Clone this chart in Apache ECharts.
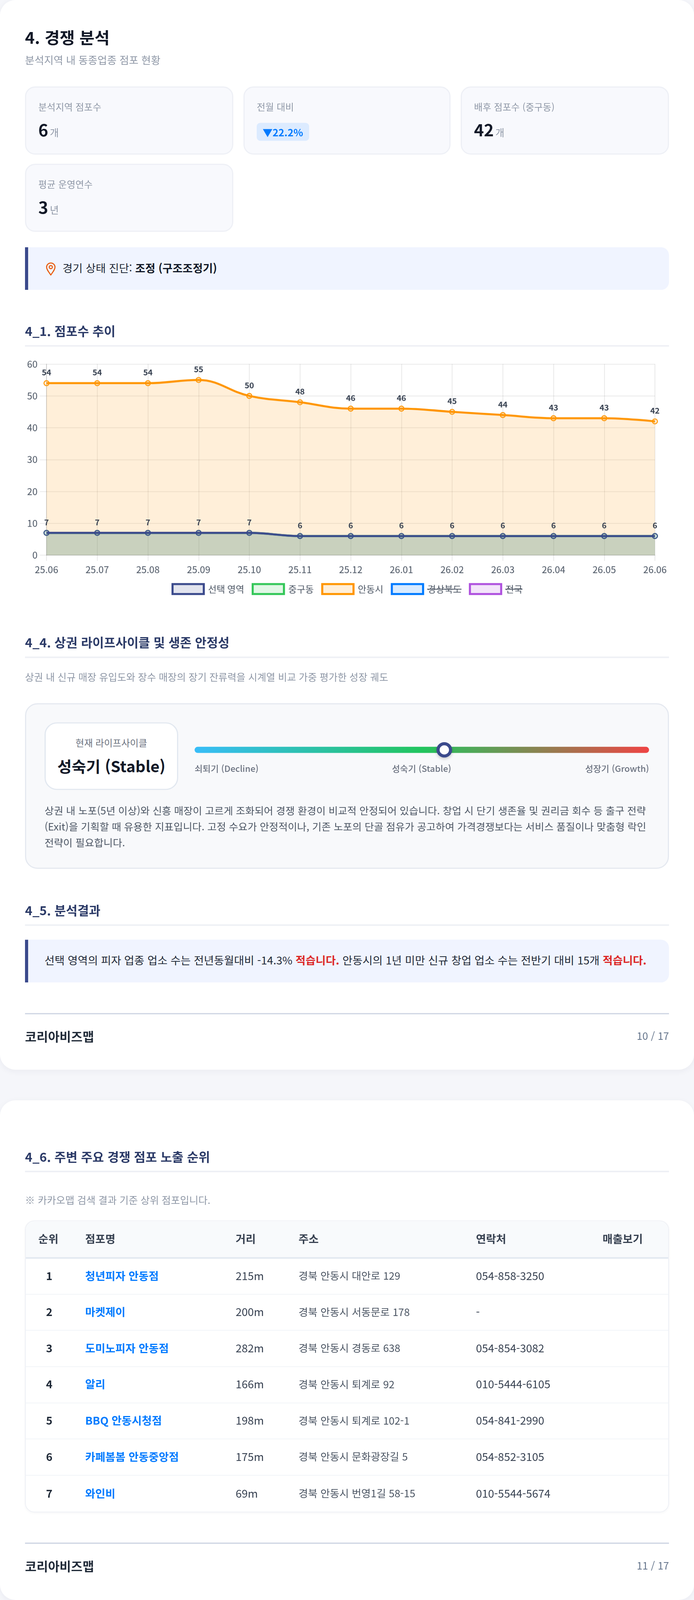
<!DOCTYPE html>
<html lang="ko">
<head>
<meta charset="utf-8">
<title>4. 경쟁 분석</title>
<script src="https://cdn.jsdelivr.net/npm/echarts@6/dist/echarts.min.js"></script>
<style>
  * { box-sizing: border-box; margin: 0; padding: 0; }
  html, body { width: 1776px; height: 100%; overflow: hidden; background: #f5f6fa; }
  body { color: #1f2937; font-family: "Noto Sans CJK KR", "Noto Sans", sans-serif; }
  #sheet { position: absolute; left: 0; top: 0; width: 1776px; height: 4182px; transform-origin: 0 0; }
  .page { position: absolute; left: 0; width: 1776px; background: #fff; border-radius: 40px; box-shadow: 0 4px 16px rgba(30, 40, 80, .05); }
  .abs { position: absolute; left: 64px; width: 1648px; }
  .title { font-size: 42px; font-weight: 700; line-height: 58px; color: #111827; }
  .sub { font-size: 26.5px; line-height: 40px; color: #8e97a6; }
  .kpi { position: absolute; width: 533px; height: 178px; background: #f8f9fd; border: 3px solid #eef0f6; border-radius: 26px; padding-left: 31px; }
  .kpi .lbl { position: absolute; top: 32px; font-size: 24px; line-height: 36px; color: #8e97a6; }
  .kpi .val { position: absolute; top: 76px; font-size: 43px; font-weight: 700; line-height: 64px; color: #111827; }
  .kpi .val small { font-size: 25px; font-weight: 400; color: #8e97a6; margin-left: 4px; }
  .badge { position: absolute; top: 92px; height: 47px; padding: 0 15px; background: #dcebff; color: #007aff; border-radius: 9px; font-size: 25.6px; font-weight: 700; line-height: 47px; word-spacing: -6px; }
  .callout { background: #f0f4ff; border-left: 8px solid #3b4a8c; border-radius: 0 21px 21px 0; font-size: 28px; color: #1f2937; }
  .callout b { font-weight: 700; color: #111827; }
  .heading { height: 62px; border-bottom: 4px solid #eef0f5; font-size: 32px; font-weight: 700; line-height: 40px; color: #2b3a67; }
  #trendChart { position: absolute; left: 64px; top: 930px; width: 1648px; height: 640px; }
  .panel { background: #f8f9fb; border: 3px solid #e5e9f0; border-radius: 32px; }
  .now { position: absolute; left: 47px; top: 47px; width: 342px; height: 177px; background: #fff; border: 3px solid #e2e8f0; border-radius: 32px; text-align: center; }
  .now p { font-size: 24px; line-height: 36px; margin-top: 32px; color: #6b7280; }
  .now h3 { font-size: 40px; font-weight: 700; line-height: 58px; margin-top: 14px; color: #111827; }
  .bar { position: absolute; left: 431px; top: 111px; width: 1163px; height: 16px; border-radius: 8px; background: linear-gradient(90deg, #38bdf8, #22c55e 50%, #ef4444); }
  .knob { position: absolute; left: 619px; top: -12px; width: 40px; height: 40px; background: #fff; border: 8px solid #3b4a8c; border-radius: 50%; box-shadow: 0 4px 8px rgba(0, 0, 0, .18); }
  .stage { position: absolute; top: 150px; font-size: 22.4px; font-weight: 500; line-height: 32px; color: #6b7280; white-space: nowrap; }
  .desc { position: absolute; left: 47px; top: 256px; width: 1560px; font-size: 26px; line-height: 42px; color: #4b5563; white-space: nowrap; }
  .foot { border-top: 3px solid #ccd3e2; }
  .foot b { position: absolute; left: 0; top: 34px; font-size: 32px; line-height: 46px; font-weight: 700; color: #1f2937; }
  .foot span { position: absolute; right: 0; top: 36px; font-size: 26px; line-height: 40px; color: #64748b; }
  .tablewrap { border: 2px solid #eef0f5; border-radius: 24px; overflow: hidden; box-shadow: 0 2px 6px rgba(30, 40, 80, .04); }
  table { width: 100%; border-collapse: collapse; table-layout: fixed; font-size: 28px; }
  th { height: 96px; text-align: left; padding: 0 0 4px 32px; background: #f8fafc; border-bottom: 4px solid #e2e8f0; font-weight: 700; color: #374151; }
  td { height: 94.7px; padding: 0 0 4px 32px; border-bottom: 2px solid #f1f4f8; color: #374151; }
  tr:last-child td { border-bottom: 0; }
  td.rank { text-align: center; font-weight: 700; padding: 0 0 4px; color: #1f2937; }
  td.name { font-weight: 700; color: #007aff; }
  td.addr { font-size: 26.4px; color: #4b5563; }
</style>
</head>
<body>
<div id="sheet">

<div class="page" style="top:0;height:2796px;"></div>
<div class="page" style="top:2876px;height:1306px;"></div>

<div class="abs title" style="top:67px;">4. 경쟁 분석</div>
<div class="abs sub" style="top:136px;">분석지역 내 동종업종 점포 현황</div>

<div class="kpi" style="left:64px;top:226px;"><div class="lbl">분석지역 점포수</div><div class="val">6<small>개</small></div></div>
<div class="kpi" style="left:623px;top:226px;width:530px;"><div class="lbl">전월 대비</div><div class="badge">▼ 22.2%</div></div>
<div class="kpi" style="left:1179px;top:226px;"><div class="lbl">배후 점포수 (중구동)</div><div class="val">42<small>개</small></div></div>
<div class="kpi" style="left:64px;top:428px;"><div class="lbl">평균 운영연수</div><div class="val">3<small>년</small></div></div>

<div class="abs callout" style="top:646px;height:112px;line-height:108px;padding-left:88px;">
  <svg style="position:absolute;left:42px;top:39px;" width="32" height="36" viewBox="0 0 24 30" fill="none" stroke="#e8590c" stroke-width="2.2">
    <path d="M12 28 C7 21 3 16 3 11 A9 9 0 0 1 21 11 C21 16 17 21 12 28 Z"/>
    <circle cx="12" cy="11" r="3.4"/>
  </svg>
  경기 상태 진단: <b>조정 (구조조정기)</b>
</div>

<div class="abs heading" style="top:844px;">4_1. 점포수 추이</div>
<div id="trendChart"></div>

<div class="abs heading" style="top:1658px;">4_4. 상권 라이프사이클 및 생존 안정성</div>
<div class="abs sub" style="top:1749px;font-size:25.1px;">상권 내 신규 매장 유입도와 장수 매장의 장기 잔류력을 시계열 비교 가중 평가한 성장 궤도</div>

<div class="abs panel" style="top:1838px;height:433px;">
  <div class="now"><p>현재 라이프사이클</p><h3>성숙기 (Stable)</h3></div>
  <div class="bar"><div class="knob"></div></div>
  <div class="stage" style="left:431px;">쇠퇴기 (Decline)</div>
  <div class="stage" style="left:936px;">성숙기 (Stable)</div>
  <div class="stage" style="right:48px;">성장기 (Growth)</div>
  <p class="desc">상권 내 노포(5년 이상)와 신흥 매장이 고르게 조화되어 경쟁 환경이 비교적 안정되어 있습니다. 창업 시 단기 생존율 및 권리금 회수 등 출구 전략<br>(Exit)을 기획할 때 유용한 지표입니다. 고정 수요가 안정적이나, 기존 노포의 단골 점유가 공고하여 가격경쟁보다는 서비스 품질이나 맞춤형 락인<br>전략이 필요합니다.</p>
</div>

<div class="abs heading" style="top:2358px;">4_5. 분석결과</div>
<div class="abs callout" style="top:2456px;height:112px;line-height:106px;padding-left:42px;white-space:nowrap;">선택 영역의 피자 업종 업소 수는 전년동월대비 -14.3% <b style="color:#dc2626">적습니다.</b> 안동시의 1년 미만 신규 창업 업소 수는 전반기 대비 15개 <b style="color:#dc2626">적습니다.</b></div>

<div class="abs foot" style="top:2648px;"><b>코리아비즈맵</b><span>10 / 17</span></div>

<div class="abs heading" style="top:3002px;">4_6. 주변 주요 경쟁 점포 노출 순위</div>
<div class="abs sub" style="top:3116px;font-size:25.5px;">※ 카카오맵 검색 결과 기준 상위 점포입니다.</div>

<div class="abs tablewrap" style="top:3190px;">
  <table id="storeTable">
    <colgroup><col style="width:120px"><col style="width:385px"><col style="width:161px"><col style="width:454px"><col style="width:324px"><col></colgroup>
    <thead><tr><th>순위</th><th>점포명</th><th>거리</th><th>주소</th><th>연락처</th><th>매출보기</th></tr></thead>
    <tbody></tbody>
  </table>
</div>

<div class="abs foot" style="top:4032px;"><b>코리아비즈맵</b><span>11 / 17</span></div>

</div>
<script>
// Window can come out shorter than the sheet, squeeze it so the last footer stays on screen
document.getElementById("sheet").style.transform = "scale(1," + Math.min(1, window.innerHeight / 4182) + ")";

// Chart data
var months = ["25.06", "25.07", "25.08", "25.09", "25.10", "25.11", "25.12", "26.01", "26.02", "26.03", "26.04", "26.05", "26.06"];
var selectedArea = [7, 7, 7, 7, 7, 6, 6, 6, 6, 6, 6, 6, 6];
var jungguDong = [7, 7, 7, 7, 7, 6, 6, 6, 6, 6, 6, 6, 6];
var andongCity = [54, 54, 54, 55, 50, 48, 46, 46, 45, 44, 43, 43, 42];
// These two are switched off in the legend, so their values cannot be read
var gyeongbuk = [];
var national = [];

// Table data
var storeNames = ["청년피자 안동점", "마켓제이", "도미노피자 안동점", "알리", "BBQ 안동시청점", "카페봄봄 안동중앙점", "와인비"];
var storeDistances = ["215m", "200m", "282m", "166m", "198m", "175m", "69m"];
var storeAddresses = ["경북 안동시 대안로 129", "경북 안동시 서동문로 178", "경북 안동시 경동로 638", "경북 안동시 퇴계로 92", "경북 안동시 퇴계로 102-1", "경북 안동시 문화광장길 5", "경북 안동시 번영1길 58-15"];
var storePhones = ["054-858-3250", "-", "054-854-3082", "010-5444-6105", "054-841-2990", "054-852-3105", "010-5544-5674"];

var tbody = document.querySelector("#storeTable tbody");
storeNames.forEach(function (name, i) {
  var tr = document.createElement("tr");
  tr.innerHTML = '<td class="rank">' + (i + 1) + '</td><td class="name">' + name + '</td><td>' + storeDistances[i] +
    '</td><td class="addr">' + storeAddresses[i] + '</td><td>' + storePhones[i] + '</td><td></td>';
  tbody.appendChild(tr);
});

function tint(hex, alpha) {
  var n = parseInt(hex.slice(1), 16);
  return "rgba(" + (n >> 16) + "," + ((n >> 8) & 255) + "," + (n & 255) + "," + alpha + ")";
}

function lineSeries(name, data, color, z, showLabel) {
  return {
    name: name,
    type: "line",
    data: data,
    z: z,
    smooth: 0.4,
    symbol: "circle",
    symbolSize: 13,
    lineStyle: { color: color, width: 5.3 },
    itemStyle: { color: tint(color, 0.15), borderColor: color, borderWidth: 2.4 },
    areaStyle: { color: tint(color, 0.15), opacity: 1 },
    label: {
      show: showLabel,
      position: "top",
      distance: 10,
      fontSize: 20.5,
      fontWeight: 600,
      color: "#374151"
    },
    emphasis: { disabled: true }
  };
}

function legendItem(name, color) {
  return {
    name: name,
    icon: "rect",
    itemStyle: { color: tint(color, 0.15), borderColor: color, borderWidth: 5.3 }
  };
}

function strike(x1, x2) {
  return {
    type: "line",
    silent: true,
    shape: { x1: x1, y1: 610, x2: x2, y2: 610 },
    style: { stroke: "#374151", lineWidth: 2 }
  };
}

var NAVY = "#3b4a8c", GREEN = "#34c759", ORANGE = "#ff9500", BLUE = "#007aff", PURPLE = "#af52de";
var gridColor = "rgba(0,0,0,0.085)";

var myChart = echarts.init(document.getElementById("trendChart"));
myChart.setOption({
  animation: false,
  textStyle: { fontFamily: '"Noto Sans CJK KR", "Noto Sans", sans-serif' },
  grid: { left: 55, right: 36, top: 21.5, bottom: 119 },
  legend: {
    left: "center",
    top: 589,
    itemWidth: 80,
    itemHeight: 26,
    itemGap: 19,
    textStyle: { fontSize: 23.7, color: "#4b5563", padding: [0, 0, 0, 6] },
    data: [
      legendItem("선택 영역", NAVY),
      legendItem("중구동", GREEN),
      legendItem("안동시", ORANGE),
      legendItem("경상북도", BLUE),
      legendItem("전국", PURPLE)
    ]
  },
  xAxis: {
    type: "category",
    data: months,
    boundaryGap: false,
    axisLine: { lineStyle: { color: "rgba(0,0,0,0.14)", width: 2 } },
    axisTick: { alignWithLabel: true, length: 15, lineStyle: { color: gridColor, width: 2 } },
    axisLabel: { fontSize: 24, color: "#4b5563", margin: 26, interval: 0 },
    splitLine: { show: true, lineStyle: { color: gridColor, width: 2 } }
  },
  yAxis: {
    type: "value",
    min: 0,
    max: 60,
    interval: 10,
    axisLine: { show: true, lineStyle: { color: "rgba(0,0,0,0.12)", width: 2 } },
    axisTick: { show: true, length: 17, lineStyle: { color: gridColor, width: 2 } },
    axisLabel: { fontSize: 24, color: "#4b5563", margin: 23 },
    splitLine: { show: true, lineStyle: { color: gridColor, width: 2 } }
  },
  series: [
    lineSeries("선택 영역", selectedArea, NAVY, 5, true),
    lineSeries("중구동", jungguDong, GREEN, 4, false),
    lineSeries("안동시", andongCity, ORANGE, 3, true),
    lineSeries("경상북도", gyeongbuk, BLUE, 2, false),
    lineSeries("전국", national, PURPLE, 2, false)
  ],
  graphic: [strike(1029, 1117), strike(1229, 1273)]
});
</script>
</body>
</html>
